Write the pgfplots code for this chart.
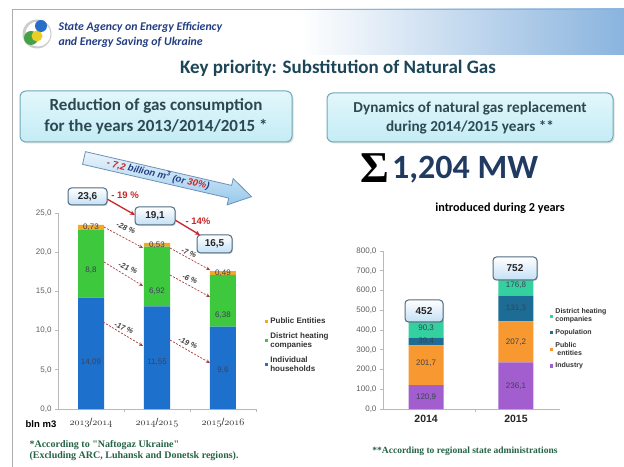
\documentclass[border=0pt]{standalone}
\usepackage{pgfplots}
\pgfplotsset{compat=1.18}
\usepackage{fontspec}
\setmainfont{Liberation Sans}
\newfontfamily\calib{Carlito}
\newfontfamily\tnr{Liberation Serif}
\usetikzlibrary{shadows,arrows.meta}
\NewDocumentCommand\osn{m}{\ensuremath{\mathnormal{#1}}}

\definecolor{hblue}{RGB}{30,112,205}
\definecolor{hgreen}{RGB}{62,200,62}
\definecolor{horange}{RGB}{245,168,40}
\definecolor{rteal}{RGB}{52,208,160}
\definecolor{rblue}{RGB}{28,108,150}
\definecolor{rorange}{RGB}{247,152,48}
\definecolor{rpurple}{RGB}{162,94,206}
\definecolor{titlecol}{RGB}{28,70,88}
\definecolor{boxtext}{RGB}{45,72,80}
\definecolor{boxfill}{RGB}{196,236,245}
\definecolor{boxfilltop}{RGB}{226,247,251}
\definecolor{boxborder}{RGB}{110,170,185}
\definecolor{callblue}{RGB}{196,224,245}
\definecolor{callborder}{RGB}{80,108,128}
\definecolor{redann}{RGB}{200,38,42}
\definecolor{dashred}{RGB}{170,60,60}
\definecolor{fgreen}{RGB}{38,100,70}
\definecolor{navy}{RGB}{34,62,130}
\definecolor{mwblue}{RGB}{32,58,98}
\definecolor{tickgray}{RGB}{95,95,95}
\definecolor{headblue}{RGB}{138,180,222}
\definecolor{arrowlight}{RGB}{234,245,252}
\definecolor{arrowdark}{RGB}{150,200,236}
\definecolor{arrowborder}{RGB}{110,145,185}
\definecolor{lbltext}{RGB}{60,66,84}
\definecolor{lgreen}{RGB}{70,160,70}
\definecolor{lyellow}{RGB}{235,205,40}
\definecolor{lblue}{RGB}{40,110,200}

\tikzset{
  tbox/.style={rounded corners=6pt, draw=boxborder, line width=1pt, top color=boxfilltop, bottom color=boxfill, drop shadow={opacity=0.25, shadow xshift=1.5pt, shadow yshift=-1.5pt}},
  callout/.style={rounded corners=3.5pt, draw=callborder, line width=1pt, top color=white, bottom color=callblue, drop shadow={opacity=0.3, shadow xshift=1pt, shadow yshift=-1pt}, inner sep=0pt, font=\bfseries\fontsize{10}{10}\selectfont, text=black!85},
  dasharr/.style={draw=dashred, line width=0.7pt, dash pattern=on 2pt off 1.5pt, -{Stealth[length=4pt,width=3.5pt]}},
  pct/.style={font=\bfseries\itshape\fontsize{7.5}{8}\selectfont, text=black!75, rotate=-22},
  redarr/.style={draw=redann, line width=1.3pt, -{Stealth[length=5pt,width=4.5pt]}},
  lbl/.style={font=\fontsize{8}{9}\selectfont, text=lbltext, inner sep=0pt},
}
\pgfplotsset{sqlegend/.style={legend image code/.code={\path[##1,draw=none] (0pt,-1.6pt) rectangle (3.2pt,1.6pt);}}}

\begin{document}
\begin{tikzpicture}[x=1pt,y=1pt]
\path[use as bounding box] (0,0) rectangle (624,466);
\fill[white] (0,0) rectangle (624,466);
\shade[left color=white, right color=headblue] (300,411) rectangle (624,457);
\draw[gray!65, line width=0.7pt] (12,-1) -- (12,457) -- (625,457);
% logo
\fill[black!20] (37,432) circle (14.5);
\fill[white] (38,432) circle (12.5);
\fill[lgreen] (31,428) circle (7);
\fill[lyellow] (37,430) circle (5.5);
\fill[lblue] (41,440) circle (6);
\node[anchor=west, text=navy, align=left, font=\calib\bfseries\itshape\fontsize{11.8}{15}\selectfont] at (55,431.5) {State Agency on Energy Efficiency\\and Energy Saving of Ukraine};
% title
\node[text=titlecol, font=\calib\bfseries\fontsize{19}{20}\selectfont] at (338,398) {Key priority: Substitution of Natural Gas};
% boxes
\draw[tbox] (20,324) rectangle (292,375);
\node[align=center, text=boxtext, font=\calib\bfseries\fontsize{17}{21}\selectfont] at (156,349.5) {Reduction of gas consumption\\for the years 2013/2014/2015 *};
\draw[tbox] (327,324) rectangle (613,373);
\node[align=center, text=boxtext, font=\calib\bfseries\fontsize{15.2}{19}\selectfont] at (470,348.5) {Dynamics of natural gas replacement\\during 2014/2015 years **};
% sigma
\node[anchor=east, inner sep=0pt, font=\tnr\bfseries\fontsize{44}{44}\selectfont] at (389,298) {Σ};
\node[anchor=west, text=mwblue, inner sep=0pt, font=\calib\bfseries\fontsize{34}{34}\selectfont] at (392,296) {1,204 MW};
\node[font=\calib\bfseries\fontsize{12.2}{13}\selectfont] at (500,258) {introduced during 2 years};

% left chart
\begin{axis}[
  at={(91pt,57pt)}, anchor=origin, scale only axis,
  width=198pt, height=196pt,
  xmin=-0.5, xmax=2.5, ymin=0, ymax=25,
  ybar stacked, bar width=26pt, sqlegend,
  axis lines*=left,
  axis line style={draw=gray!55, line width=0.6pt},
  tick style={draw=gray!55, line width=0.6pt},
  tick align=outside, major tick length=3pt, minor tick length=3pt,
  ytick={0,5,10,15,20,25},
  yticklabel style={font=\fontsize{8}{9}\selectfont, text=tickgray, /pgf/number format/.cd, fixed, fixed zerofill, precision=1, use comma, assume math mode=true},
  xtick={0,1,2}, minor xtick={0.5,1.5,2.5},
  xticklabels={{\osn{2013}/\osn{2014}},{\osn{2014}/\osn{2015}},{\osn{2015}/\osn{2016}}},
  major x tick style={draw=none},
  xticklabel style={font=\fontsize{10}{10}\selectfont, text=black!80, yshift=-3pt},
  reverse legend, legend cell align=left,
  legend style={at={(1.03,0.485)}, anchor=north west, draw=none, fill=none,
    font=\bfseries\fontsize{8}{9.5}\selectfont, text=black!80, row sep=3pt,
    cells={align=left}},
]
\addplot[fill=hblue, draw=none] coordinates {(0,14.2) (1,13.1) (2,10.5)};
\addlegendentry{Individual\\households}
\addplot[fill=hgreen, draw=none] coordinates {(0,8.6) (1,7.6) (2,6.6)};
\addlegendentry{District heating\\companies}
\addplot[fill=horange, draw=none] coordinates {(0,0.7) (1,0.5) (2,0.5)};
\addlegendentry{Public Entities}
\coordinate (L1) at (axis cs:0,6.0);
\coordinate (L2) at (axis cs:0,17.7);
\coordinate (L3) at (axis cs:0,23.2);
\coordinate (L4) at (axis cs:1,6.0);
\coordinate (L5) at (axis cs:1,15.0);
\coordinate (L6) at (axis cs:1,20.9);
\coordinate (L7) at (axis cs:2,5.0);
\coordinate (L8) at (axis cs:2,12.0);
\coordinate (L9) at (axis cs:2,17.3);
\end{axis}
\node[lbl] at (L1) {14,09};
\node[lbl] at (L2) {8,8};
\node[lbl] at (L3) {0,73};
\node[lbl] at (L4) {11,55};
\node[lbl] at (L5) {6,92};
\node[lbl] at (L6) {0,53};
\node[lbl] at (L7) {9,6};
\node[lbl] at (L8) {6,38};
\node[lbl] at (L9) {0,49};

% right chart
\begin{axis}[
  at={(426.1pt,57pt)}, anchor=origin, scale only axis,
  width=177pt, height=158pt,
  xmin=-0.48, xmax=1.49, ymin=0, ymax=800,
  ybar stacked, bar width=35pt, sqlegend,
  axis lines*=left,
  axis line style={draw=gray!55, line width=0.6pt},
  tick style={draw=gray!55, line width=0.6pt},
  tick align=outside, major tick length=3pt, minor tick length=3pt,
  ytick={0,100,200,300,400,500,600,700,800},
  yticklabel style={font=\fontsize{8}{9}\selectfont, text=tickgray, /pgf/number format/.cd, fixed, fixed zerofill, precision=1, use comma, assume math mode=true},
  xtick={0,1}, minor xtick={0.55}, xticklabels={2014,2015},
  major x tick style={draw=none},
  xticklabel style={font=\bfseries\fontsize{10.5}{11}\selectfont, text=black!85},
  reverse legend, legend cell align=left,
  legend style={at={(0.927,0.66)}, anchor=north west, draw=none, fill=none,
    font=\bfseries\fontsize{7}{8}\selectfont, text=black!80, row sep=2pt,
    cells={align=left}},
]
\addplot[fill=rpurple, draw=none] coordinates {(0,120.9) (1,236.1)};
\addlegendentry{Industry}
\addplot[fill=rorange, draw=none] coordinates {(0,201.7) (1,207.2)};
\addlegendentry{Public\\\kern2pt entities}
\addplot[fill=rblue, draw=none] coordinates {(0,39.4) (1,131.3)};
\addlegendentry{Population}
\addplot[fill=rteal, draw=none] coordinates {(0,90.3) (1,176.8)};
\addlegendentry{District heating\\companies}
\coordinate (R1) at (axis cs:0,62);
\coordinate (R2) at (axis cs:0,233);
\coordinate (R3) at (axis cs:0,342);
\coordinate (R4) at (axis cs:0,408);
\coordinate (R5) at (axis cs:1,116);
\coordinate (R6) at (axis cs:1,336);
\coordinate (R7) at (axis cs:1,511);
\coordinate (R8) at (axis cs:1,628);
\end{axis}
\node[lbl] at (R1) {120,9};
\node[lbl] at (R2) {201,7};
\node[lbl] at (R3) {39,4};
\node[lbl] at (R4) {90,3};
\node[lbl] at (R5) {236,1};
\node[lbl] at (R6) {207,2};
\node[lbl] at (R7) {131,3};
\node[lbl] at (R8) {176,8};

% big arrow
\begin{scope}[shift={(84,308)}, rotate=-13]
\draw[arrowborder, line width=0.8pt, top color=arrowlight, bottom color=arrowdark]
  (0,6.5) -- (150,6.5) -- (150,13.5) -- (172,0) -- (150,-13.5) -- (150,-6.5) -- (0,-6.5) -- cycle;
\node[rotate=-13, font=\bfseries\itshape\fontsize{9.5}{10}\selectfont] at (76,0.5) {\textcolor{redann}{- 7,2} \textcolor{navy}{billion m\textsuperscript{3} (or} \textcolor{redann}{30\%}\textcolor{navy}{)}};
\end{scope}

% dashed arrows
\draw[dasharr] (104,239) -- (143,218);
\node[pct] at (126,238) {-28 \%};
\draw[dasharr] (104,204) -- (143,180);
\node[pct] at (128,198) {-21 \%};
\draw[dasharr] (103,144) -- (143,120);
\node[pct] at (124,138) {-17 \%};
\draw[dasharr] (170,218) -- (210,196);
\node[pct] at (189,213) {-7 \%};
\draw[dasharr] (170,191) -- (210,169);
\node[pct] at (190,187) {-6 \%};
\draw[dasharr] (170,126) -- (210,103);
\node[pct] at (188,123) {-19 \%};

% red arrows and callouts
\draw[redarr] (107,267) -- (135,251);
\node[font=\bfseries\fontsize{9.5}{10}\selectfont, text=redann] at (125,271) {- 19 \%};
\draw[redarr] (175,246) -- (200,231);
\node[font=\bfseries\fontsize{9.5}{10}\selectfont, text=redann] at (198,245) {- 14\%};
\node[callout, minimum width=39pt, minimum height=17pt] at (87.5,269.5) {23,6};
\node[callout, minimum width=40pt, minimum height=18pt] at (155,250) {19,1};
\node[callout, minimum width=35pt, minimum height=18pt] at (214.5,222) {16,5};
\node[callout, minimum width=38pt, minimum height=22pt] at (424,155) {452};
\node[callout, minimum width=44pt, minimum height=23pt] at (515,197.5) {752};

% unit + footnotes
\node[font=\bfseries\fontsize{9.5}{10}\selectfont] at (41,42) {bln m3};
\node[anchor=west, font=\tnr\bfseries\fontsize{10}{10}\selectfont, text=fgreen] at (26,21) {*According to "Naftogaz Ukraine"};
\node[anchor=west, font=\tnr\bfseries\fontsize{10}{10}\selectfont, text=fgreen] at (26,10) {(Excluding ARC, Luhansk and Donetsk regions).};
\node[font=\tnr\bfseries\fontsize{9.5}{10}\selectfont, text=fgreen] at (465,15) {**According to regional state administrations};
\end{tikzpicture}
\end{document}
